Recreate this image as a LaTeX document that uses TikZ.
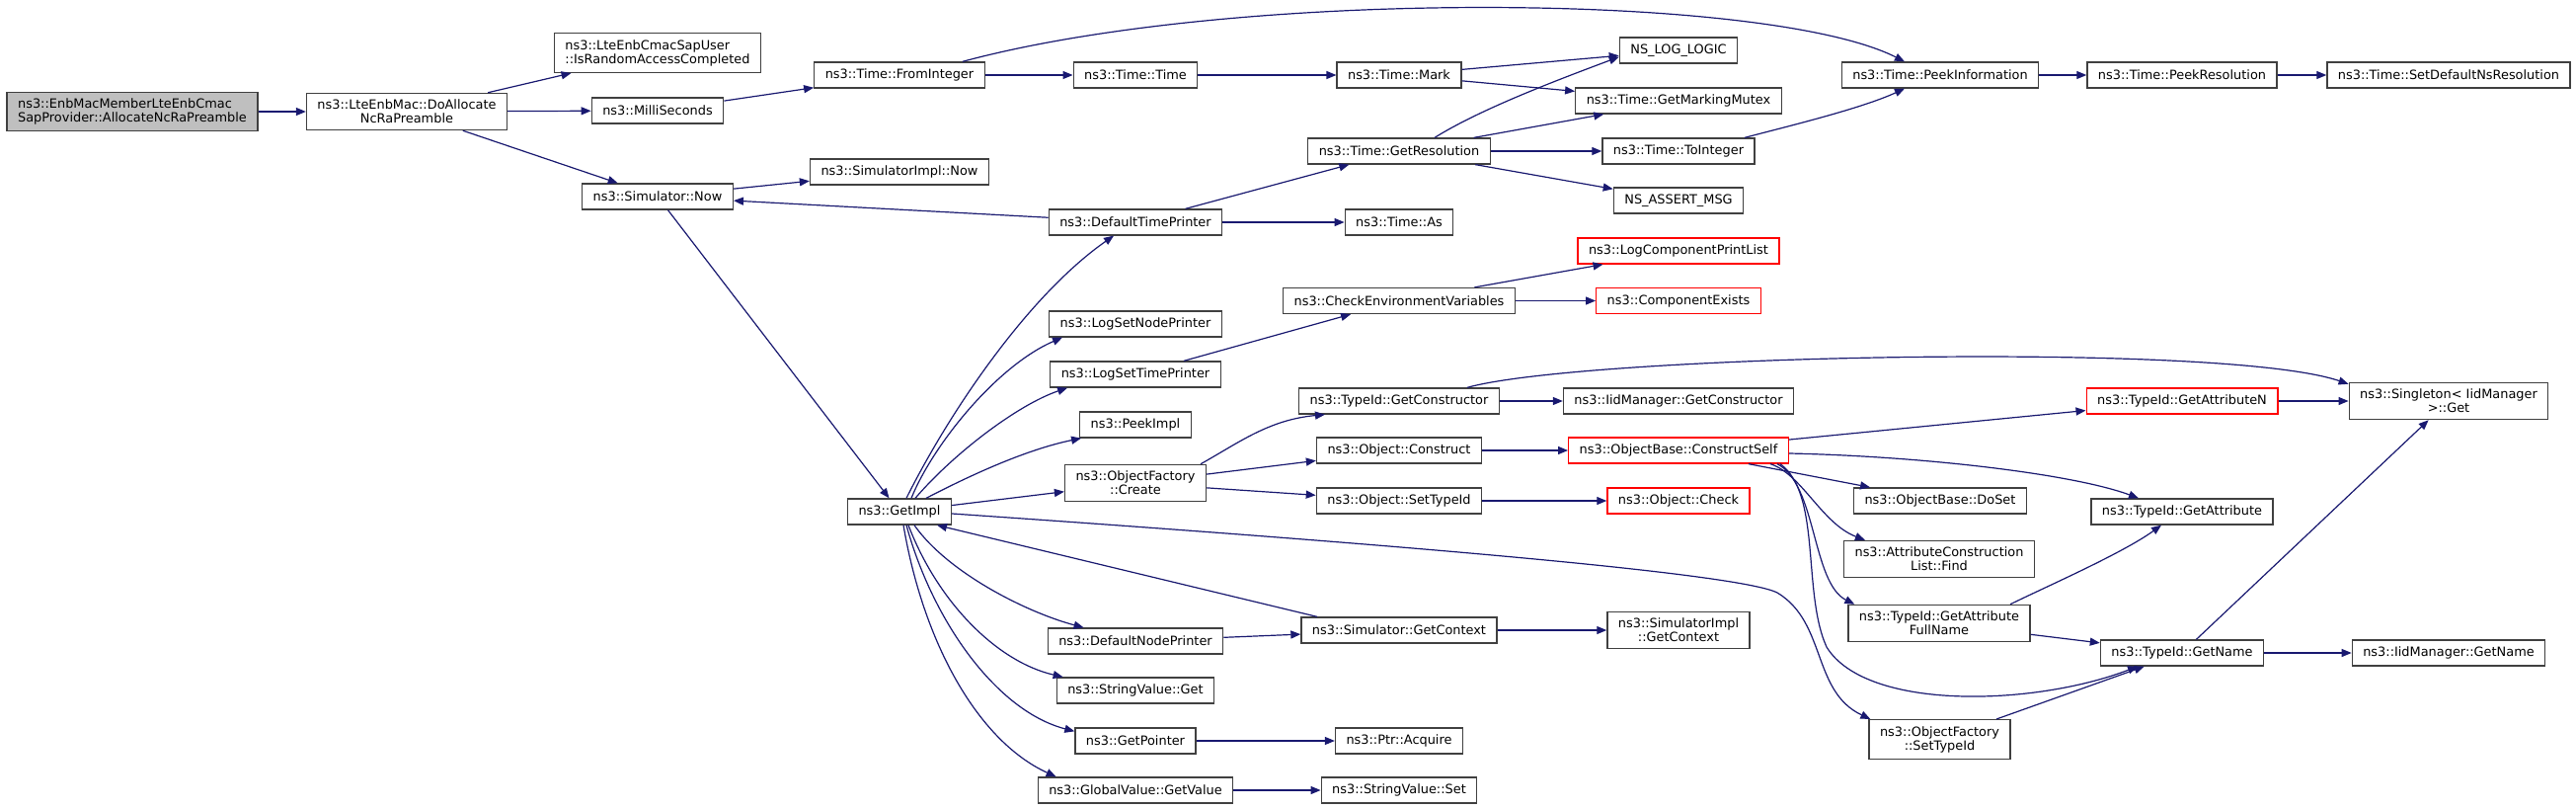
\documentclass[tikz,border=0pt]{standalone}
\usepackage{fontspec}
\setmainfont{DejaVu Sans}
\usepackage{tikz}
\usetikzlibrary{arrows.meta}
\usepackage{xcolor}
\definecolor{navy}{HTML}{191970}
\definecolor{boxline}{HTML}{404040}
\definecolor{mainfill}{HTML}{BFBFBF}

\begin{document}
\begin{tikzpicture}[x=0.5pt,y=-0.5pt,>={Triangle[length=5pt,width=4pt]},
  fn/.style={draw=boxline,fill=white,line width=0.65pt,font=\fontsize{6.45}{7}\selectfont,
    inner xsep=5.5pt,inner ysep=3.3pt,minimum height=13pt,align=center},
  fnred/.style={fn,draw=red},
  call/.style={->,draw=navy,line width=0.6pt}]
\fill[white] (0,0) rectangle (2609,819);
\useasboundingbox (0,0) rectangle (2609,819);
\node[fn,fill=mainfill,align=left] (main) at (134,113) {ns3::EnbMacMemberLteEnbCmac\\SapProvider::AllocateNcRaPreamble};
\node[fn] (doalloc) at (412,113) {ns3::LteEnbMac::DoAllocate\\NcRaPreamble};
\node[fn,align=left] (israndom) at (666,53.5) {ns3::LteEnbCmacSapUser\\::IsRandomAccessCompleted};
\node[fn] (milli) at (666,112) {ns3::MilliSeconds};
\node[fn] (simnow) at (666,199) {ns3::Simulator::Now};
\node[fn] (simimplnow) at (911,174) {ns3::SimulatorImpl::Now};
\node[fn] (fromint) at (911,76) {ns3::Time::FromInteger};
\node[fn] (timetime) at (1150,76) {ns3::Time::Time};
\node[fn] (mark) at (1417,76) {ns3::Time::Mark};
\node[fn] (nslog) at (1700,51) {NS\_LOG\_LOGIC};
\node[fn] (mutex) at (1700,102) {ns3::Time::GetMarkingMutex};
\node[fn] (getres) at (1417,153) {ns3::Time::GetResolution};
\node[fn] (toint) at (1700,153) {ns3::Time::ToInteger};
\node[fn] (nsassert) at (1700,203) {NS\_ASSERT\_MSG};
\node[fn] (deftime) at (1150,225) {ns3::DefaultTimePrinter};
\node[fn] (timeas) at (1417,225) {ns3::Time::As};
\node[fnred] (logcomp) at (1700,254) {ns3::LogComponentPrintList};
\node[fn] (checkenv) at (1417,304.5) {ns3::CheckEnvironmentVariables};
\node[fnred] (compexists) at (1700,304.5) {ns3::ComponentExists};
\node[fn] (peekinfo) at (1965,76) {ns3::Time::PeekInformation};
\node[fn] (peekres) at (2210,76) {ns3::Time::PeekResolution};
\node[fn] (setdefns) at (2480,76) {ns3::Time::SetDefaultNsResolution};
\node[fn] (lognode) at (1150,328) {ns3::LogSetNodePrinter};
\node[fn] (logtime) at (1150,379) {ns3::LogSetTimePrinter};
\node[fn] (peekimpl) at (1150,430) {ns3::PeekImpl};
\node[fn] (ofcreate) at (1150,489) {ns3::ObjectFactory\\::Create};
\node[fn] (getimpl) at (911,518) {ns3::GetImpl};
\node[fn] (getctor) at (1417,406) {ns3::TypeId::GetConstructor};
\node[fn] (iidctor) at (1700,406) {ns3::IidManager::GetConstructor};
\node[fn] (construct) at (1417,456) {ns3::Object::Construct};
\node[fn] (settypeid) at (1417,507) {ns3::Object::SetTypeId};
\node[fnred] (cself) at (1700,456) {ns3::ObjectBase::ConstructSelf};
\node[fnred] (check) at (1700,507) {ns3::Object::Check};
\node[fnred] (getattrn) at (2210,406) {ns3::TypeId::GetAttributeN};
\node[fn] (singleton) at (2480,406) {ns3::Singleton< IidManager\\>::Get};
\node[fn] (doset) at (1965,507) {ns3::ObjectBase::DoSet};
\node[fn] (getattr) at (2210,518) {ns3::TypeId::GetAttribute};
\node[fn] (find) at (1964,566) {ns3::AttributeConstruction\\List::Find};
\node[fn] (fullname) at (1964,631) {ns3::TypeId::GetAttribute\\FullName};
\node[fn] (getname) at (2210,661) {ns3::TypeId::GetName};
\node[fn] (iidname) at (2480,661) {ns3::IidManager::GetName};
\node[fn] (ofsettype) at (1964.5,748.5) {ns3::ObjectFactory\\::SetTypeId};
\node[fn] (defnode) at (1150,649) {ns3::DefaultNodePrinter};
\node[fn] (simctx) at (1417,638) {ns3::Simulator::GetContext};
\node[fn] (simimplctx) at (1700,638) {ns3::SimulatorImpl\\::GetContext};
\node[fn] (strget) at (1150,699) {ns3::StringValue::Get};
\node[fn] (getptr) at (1150,750) {ns3::GetPointer};
\node[fn] (acquire) at (1417,750) {ns3::Ptr::Acquire};
\node[fn] (globalget) at (1150,800) {ns3::GlobalValue::GetValue};
\node[fn] (strset) at (1417,800) {ns3::StringValue::Set};
\draw[call] (main) -- (doalloc);
\draw[call] (doalloc) -- (israndom);
\draw[call] (doalloc) -- (milli);
\draw[call] (doalloc) -- (simnow);
\draw[call] (milli) -- (fromint);
\draw[call] (fromint) -- (timetime);
\draw[call] ([xshift=-11.5pt]fromint.north east) .. controls (1250,-12) and (1790,-8) .. ([xshift=-18pt]peekinfo.north);
\draw[call] (timetime) -- (mark);
\draw[call] (mark) -- (nslog);
\draw[call] (mark) -- (mutex);
\draw[call] ([xshift=18pt]getres.north) .. controls (1500,110) and (1580,80) .. ([yshift=3.5pt]nslog.south west);
\draw[call] (getres) -- (mutex);
\draw[call] (getres) -- (toint);
\draw[call] (getres) -- (nsassert);
\draw[call] ([xshift=33.5pt]toint.north) .. controls (1810,128) and (1885,110) .. ([xshift=-18pt]peekinfo.south);
\draw[call] (peekinfo) -- (peekres);
\draw[call] (peekres) -- (setdefns);
\draw[call] (simnow) -- (simimplnow);
\draw[call] (simnow) -- (getimpl);
\draw[call] (deftime) -- (simnow);
\draw[call] (deftime) -- (getres);
\draw[call] (deftime) -- (timeas);
\draw[call] ([xshift=3.5pt]getimpl.north) .. controls (960,420) and (1040,300) .. ([xshift=-11pt]deftime.south);
\draw[call] ([xshift=6pt]getimpl.north) .. controls (945,450) and (1010,370) .. ([xshift=7pt]lognode.south west);
\draw[call] ([xshift=8pt]getimpl.north) .. controls (965,460) and (1030,410) .. ([xshift=9pt]logtime.south west);
\draw[call] ([xshift=13.5pt]getimpl.north) .. controls (985,480) and (1040,455) .. ([xshift=1pt]peekimpl.south west);
\draw[call] (getimpl) -- (ofcreate);
\draw[call] ([yshift=-1pt]getimpl.east) .. controls (1400,550) and (1760,580) .. (1800,600) .. controls (1850,630) and (1835,700) .. ([xshift=1pt]ofsettype.north west);
\draw[call] ([xshift=-41.5pt]simctx.north) -- ([xshift=19pt]getimpl.south);
\draw[call] ([xshift=7.5pt]getimpl.south) .. controls (960,580) and (1040,620) .. ([xshift=18.5pt]defnode.north west);
\draw[call] ([xshift=4.5pt]getimpl.south) .. controls (950,610) and (1010,670) .. ([xshift=3.5pt]strget.north west);
\draw[call] ([xshift=3.5pt]getimpl.south) .. controls (945,630) and (1010,720) .. ([yshift=-2pt]getptr.north west);
\draw[call] ([xshift=2pt]getimpl.south) .. controls (935,650) and (990,750) .. ([xshift=9.5pt]globalget.north west);
\draw[call] (logtime) -- (checkenv);
\draw[call] (checkenv) -- (logcomp);
\draw[call] (checkenv) -- (compexists);
\draw[call] ([xshift=33pt]ofcreate.north) .. controls (1255,448) and (1285,425) .. ([xshift=-37.5pt]getctor.south);
\draw[call] (ofcreate) -- (construct);
\draw[call] (ofcreate) -- (settypeid);
\draw[call] (getctor) -- (iidctor);
\draw[call] ([xshift=34.5pt]getctor.north) .. controls (1600,360) and (2250,345) .. ([yshift=-1pt]singleton.north west);
\draw[call] (construct) -- (cself);
\draw[call] (settypeid) -- (check);
\draw[call] (cself) -- (getattrn);
\draw[call] ([yshift=-1.5pt]cself.east) .. controls (1950,462) and (2100,480) .. ([xshift=-22pt]getattr.north);
\draw[call] (cself) -- (doset);
\draw[call] ([xshift=46.5pt]cself.south) .. controls (1825,480) and (1845,530) .. ([xshift=11pt]find.north west);
\draw[call] ([xshift=50pt]cself.south) .. controls (1840,490) and (1835,590) .. ([xshift=3.5pt]fullname.north west);
\draw[call] ([xshift=51.5pt]cself.south) .. controls (1845,500) and (1825,600) .. (1850,655) .. controls (1890,720) and (2060,715) .. ([xshift=-22.5pt]getname.south);
\draw[call] (getattrn) -- (singleton);
\draw[call] ([xshift=36pt]fullname.north) .. controls (2070,595) and (2150,560) .. ([xshift=-10.5pt]getattr.south);
\draw[call] (fullname) -- (getname);
\draw[call] (getname) -- (singleton);
\draw[call] (getname) -- (iidname);
\draw[call] (ofsettype) -- (getname);
\draw[call] (defnode) -- (simctx);
\draw[call] (simctx) -- (simimplctx);
\draw[call] (getptr) -- (acquire);
\draw[call] (globalget) -- (strset);
\end{tikzpicture}
\end{document}
